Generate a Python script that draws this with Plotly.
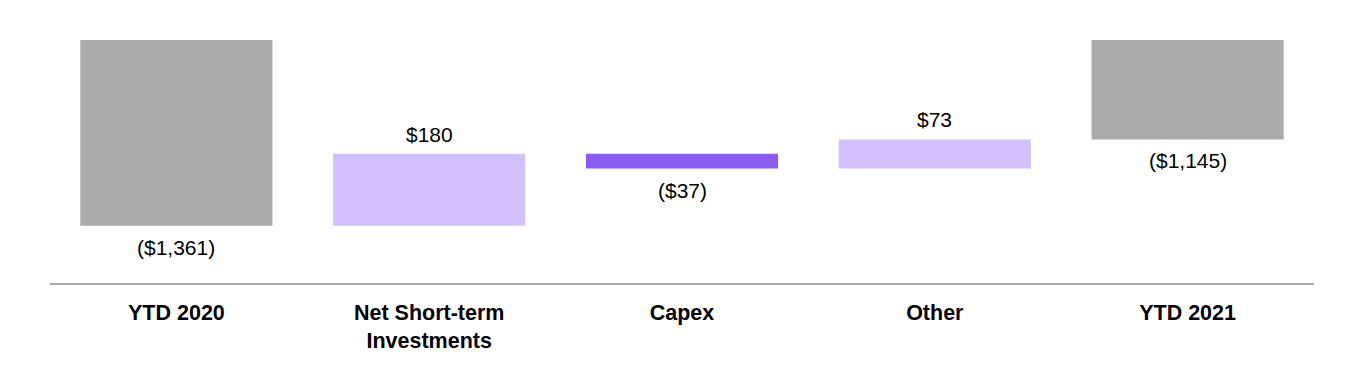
import plotly.graph_objects as go

categories = ["YTD 2020", "Net Short-term<br>Investments", "Capex", "Other", "YTD 2021"]
values = [-1361, 180, -37, 73, -1145]
measures = ["absolute", "relative", "relative", "relative", "total"]
labels = ["($1,361)", "$180", "($37)", "$73", "($1,145)"]

GRAY = "#ABABAB"
LIGHT = "#D1C0F9"
PURPLE = "#8B5CF0"
FONT = "Liberation Sans, Arial, sans-serif"

fig = go.Figure(go.Waterfall(
    x=categories, y=values, measure=measures,
    textinfo="none",
    totals=dict(marker=dict(color=GRAY)),
    increasing=dict(marker=dict(color=LIGHT)),
    decreasing=dict(marker=dict(color=PURPLE)),
    connector=dict(visible=False),
    hoverinfo="skip",
))

# value labels at the end of each bar
running = 0
for cat, v, m, lab in zip(categories, values, measures, labels):
    if m == "absolute":
        running = v
    elif m == "relative":
        running += v
    end = running
    up = (m == "relative" and v > 0)
    fig.add_annotation(
        x=cat, y=end, text=lab, showarrow=False,
        yanchor="bottom" if up else "top",
        yshift=6 if up else -8,
        font=dict(family=FONT, size=21, color="#000000"),
    )

fig.update_layout(
    width=1364, height=370,
    margin=dict(l=50, r=50, t=40, b=87),
    paper_bgcolor="white", plot_bgcolor="white",
    waterfallgap=0.24,
    showlegend=False,
    font=dict(family=FONT, color="#000000"),
)
fig.update_xaxes(
    showline=True, linecolor="#A9A9A9", linewidth=2,
    showgrid=False, ticks="", ticklabelstandoff=9,
    tickfont=dict(family=FONT, size=21.5, color="#000000", weight="bold"),
)
fig.update_yaxes(
    range=[-1504, -896.5], visible=False, showgrid=False, zeroline=False,
)

fig.write_html("out.html")
